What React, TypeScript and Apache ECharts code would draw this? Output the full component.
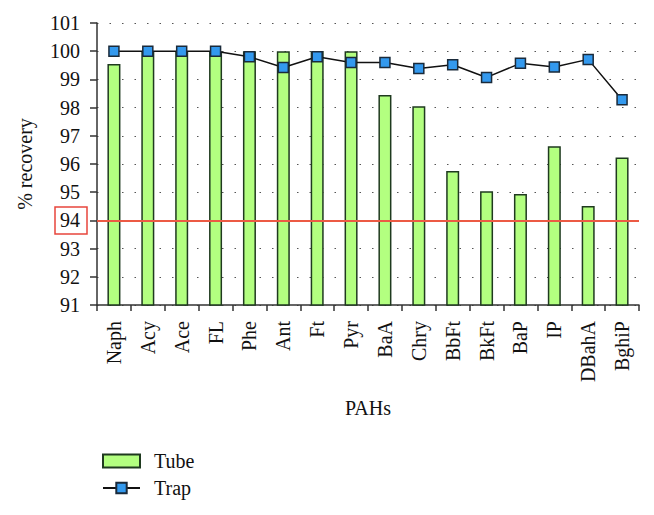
import React, { useEffect, useRef } from "react";
import * as echarts from "echarts";

const categories = ["Naph", "Acy", "Ace", "FL", "Phe", "Ant", "Ft", "Pyr", "BaA", "Chry", "BbFt", "BkFt", "BaP", "IP", "DBahA", "BghiP"];
const tubeValues = [99.55, 100, 100, 100, 100, 100, 100, 100, 98.45, 98.05, 95.75, 95.03, 94.94, 96.63, 94.51, 96.23];
const trapValues = [100, 100, 100, 100, 99.8, 99.42, 99.8, 99.6, 99.6, 99.39, 99.52, 99.07, 99.57, 99.44, 99.71, 98.28];
const thresholdValue = 94;
const yMin = 91;
const yMax = 101;

const FONT = "'Liberation Serif', 'DejaVu Serif', serif";

export default function App() {
  const ref = useRef<HTMLDivElement>(null);
  useEffect(() => {
    document.body.style.margin = "0";
    if (!ref.current) return;
    const chart = echarts.init(ref.current, undefined, { renderer: "svg" });
    chart.setOption({
      animation: false,
      textStyle: { fontFamily: FONT },
      grid: { left: 97, right: 15, top: 23, bottom: 210 },
      legend: {
        orient: "vertical",
        left: 97,
        top: 446,
        height: 69,
        itemWidth: 37,
        itemHeight: 13,
        itemGap: 7,
        textStyle: { fontFamily: FONT, fontSize: 20, color: "#111", padding: [0, 0, 0, 9] },
        data: [
          { name: "Tube", icon: "rect" },
          { name: "Trap" },
        ],
      },
      xAxis: {
        type: "category",
        data: categories,
        name: "PAHs",
        nameLocation: "middle",
        nameGap: 93,
        nameTextStyle: { fontFamily: FONT, fontSize: 20, color: "#111" },
        axisLine: { lineStyle: { color: "#333", width: 1.5 } },
        axisTick: { show: true, length: 6, alignWithLabel: false, lineStyle: { color: "#333", width: 1.5 } },
        axisLabel: { rotate: 90, fontFamily: FONT, fontSize: 20, color: "#111", margin: 16 },
      },
      yAxis: {
        type: "value",
        min: yMin,
        max: yMax,
        interval: 1,
        name: "% recovery",
        nameLocation: "middle",
        nameGap: 62,
        nameTextStyle: { fontFamily: FONT, fontSize: 20, color: "#111" },
        axisLine: { show: true, lineStyle: { color: "#333", width: 1.5 } },
        axisTick: { show: true, length: 7, lineStyle: { color: "#333", width: 1.5 } },
        axisLabel: { fontFamily: FONT, fontSize: 20, color: "#111", margin: 17 },
        splitLine: { show: true, lineStyle: { color: "#555", width: 1, type: [1.5, 11] } },
      },
      series: [
        {
          name: "Tube",
          type: "bar",
          data: tubeValues,
          barWidth: 13,
          itemStyle: { color: "#b3ff80", borderColor: "#1f3a1f", borderWidth: 1.5 },
          markLine: {
            silent: true,
            symbol: "none",
            label: { show: false },
            lineStyle: { color: "#ec5a44", width: 2, type: "solid" },
            data: [{ yAxis: thresholdValue }],
          },
          z: 2,
        },
        {
          name: "Trap",
          type: "line",
          data: trapValues,
          symbol: "rect",
          symbolSize: 10,
          lineStyle: { color: "#111", width: 1.5 },
          itemStyle: { color: "#3399ee", borderColor: "#1a2a3a", borderWidth: 1.5 },
          z: 3,
        },
      ],
    });
    const yPix = chart.convertToPixel({ yAxisIndex: 0 }, thresholdValue) as number;
    chart.setOption({
      graphic: [
        {
          type: "rect",
          shape: { x: 55, y: yPix - 13.5, width: 32, height: 27 },
          style: { fill: "none", stroke: "#e8453c", lineWidth: 1.5 },
          silent: true,
        },
      ],
    });
    return () => chart.dispose();
  }, []);
  return <div ref={ref} style={{ width: 654, height: 515 }} />;
}
